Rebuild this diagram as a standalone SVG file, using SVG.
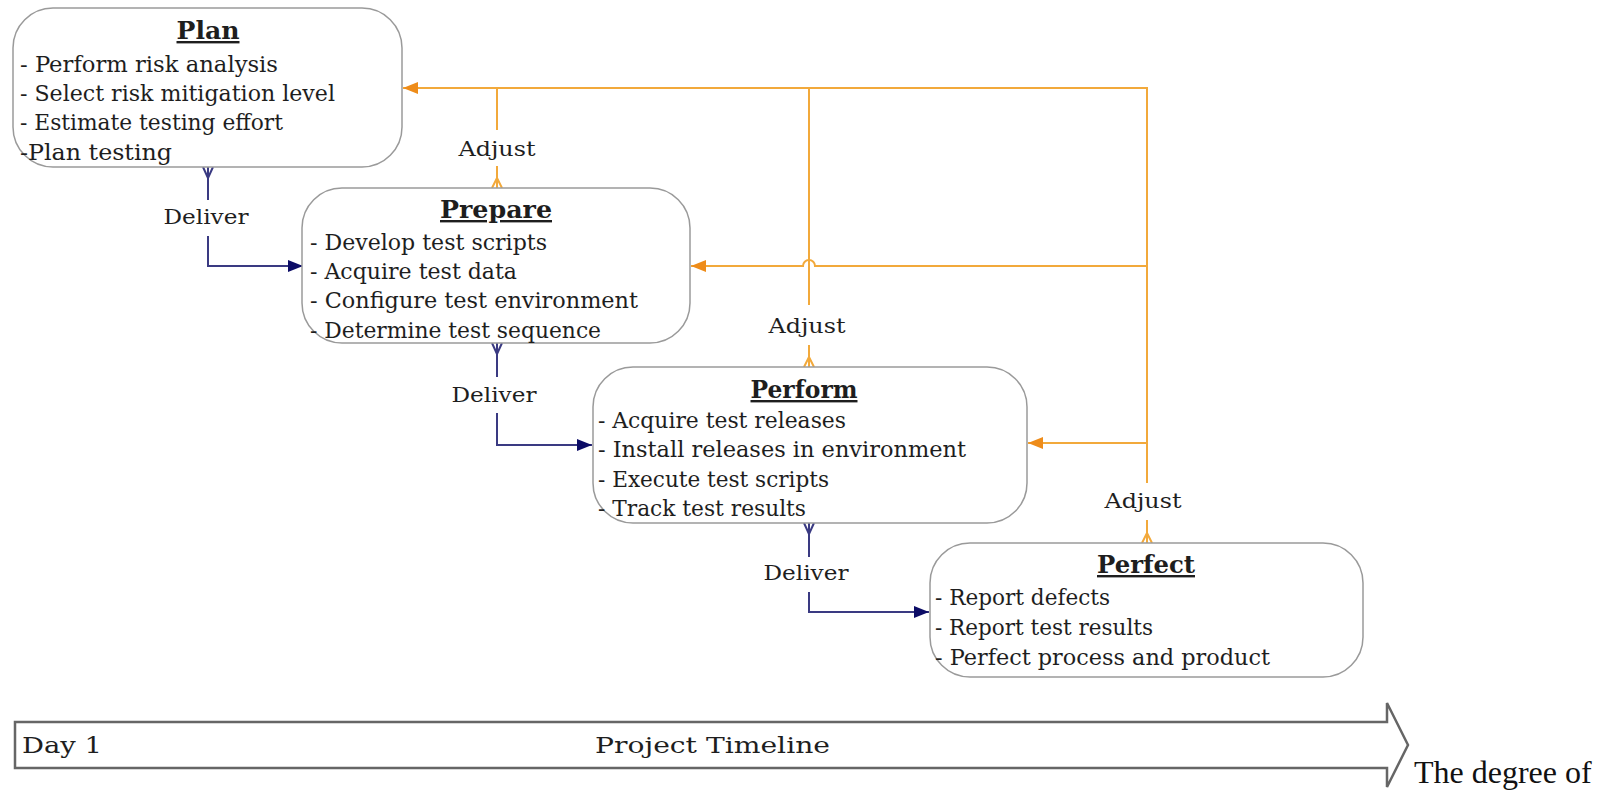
<svg xmlns="http://www.w3.org/2000/svg" width="1615" height="798" viewBox="0 0 1615 798">
<style>
.box{fill:#fff;stroke:#9a9a9a;stroke-width:1.5}
.t{font-family:"DejaVu Serif","Liberation Serif",serif;font-size:22px;fill:#1e1e1e}
.title{font-family:"DejaVu Serif","Liberation Serif",serif;font-size:24px;font-weight:bold;fill:#1e1e1e;text-decoration:underline;text-anchor:middle}
.lbl{font-family:"DejaVu Serif","Liberation Serif",serif;font-size:21px;fill:#1e1e1e;text-anchor:middle}
.del{fill:none;stroke:#3a3a82;stroke-width:2}
.adj{fill:none;stroke:#f2a93b;stroke-width:2}
.tl{fill:#fff;stroke:#666;stroke-width:2.5}
</style>
<defs>
<marker id="ab" markerUnits="userSpaceOnUse" viewBox="0 0 15 12" refX="15" refY="6" markerWidth="15" markerHeight="12" orient="auto">
<path d="M0,0 L15,6 L0,12 z" fill="#0c0c66"/>
</marker>
<marker id="ao" markerUnits="userSpaceOnUse" viewBox="0 0 15 12" refX="15" refY="6" markerWidth="15" markerHeight="12" orient="auto">
<path d="M0,0 L15,6 L0,12 z" fill="#ee8c1a"/>
</marker>
</defs>

<g id="connectors">
<!-- Deliver connectors -->
<path class="del" d="M208,167 V200 M203,167 L208,178 L213,167"/>
<path class="del" d="M208,236 V266 H303" marker-end="url(#ab)"/>
<path class="del" d="M497,343 V377 M492,343 L497,354 L502,343"/>
<path class="del" d="M497,413 V445 H592" marker-end="url(#ab)"/>
<path class="del" d="M809,523 V557 M804,523 L809,534 L814,523"/>
<path class="del" d="M809,592 V612 H929" marker-end="url(#ab)"/>
<!-- Adjust connectors -->
<path class="adj" d="M1147,483 V88 H403" marker-end="url(#ao)"/>
<path class="adj" d="M497,88 V130"/>
<path class="adj" d="M497,166 V188 M492,188 L497,178 L502,188"/>
<path class="adj" d="M809,88 V305"/>
<path class="adj" d="M809,345 V367 M804,367 L809,357 L814,367"/>
<path class="adj" d="M1147,266 H815 A6,6 0 0 0 803,266 H691" marker-end="url(#ao)"/>
<path class="adj" d="M1147,443 H1028" marker-end="url(#ao)"/>
<path class="adj" d="M1147,520 V543 M1142,543 L1147,533 L1152,543"/>
<text class="lbl" x="206" y="224" textLength="85" lengthAdjust="spacingAndGlyphs">Deliver</text>
<text class="lbl" x="494" y="402" textLength="85" lengthAdjust="spacingAndGlyphs">Deliver</text>
<text class="lbl" x="806" y="580" textLength="85" lengthAdjust="spacingAndGlyphs">Deliver</text>
<text class="lbl" x="497" y="156" textLength="77" lengthAdjust="spacingAndGlyphs">Adjust</text>
<text class="lbl" x="807" y="333" textLength="77" lengthAdjust="spacingAndGlyphs">Adjust</text>
<text class="lbl" x="1143" y="508" textLength="77" lengthAdjust="spacingAndGlyphs">Adjust</text>
</g>

<g id="plan">
<rect class="box" x="13" y="8" width="389" height="159" rx="40" ry="40"/>
<text class="title" x="208" y="39" textLength="63" lengthAdjust="spacingAndGlyphs">Plan</text>
<text class="t" x="20" y="72" textLength="258" lengthAdjust="spacingAndGlyphs">- Perform risk analysis</text>
<text class="t" x="20" y="101" textLength="315" lengthAdjust="spacingAndGlyphs">- Select risk mitigation level</text>
<text class="t" x="20" y="130" textLength="263" lengthAdjust="spacingAndGlyphs">- Estimate testing effort</text>
<text class="t" x="20" y="160" textLength="152" lengthAdjust="spacingAndGlyphs">-Plan testing</text>
</g>

<g id="prepare">
<rect class="box" x="302" y="188" width="388" height="155" rx="40" ry="40"/>
<text class="title" x="496" y="218" textLength="112" lengthAdjust="spacingAndGlyphs">Prepare</text>
<text class="t" x="310" y="250" textLength="237" lengthAdjust="spacingAndGlyphs">- Develop test scripts</text>
<text class="t" x="310" y="279" textLength="207" lengthAdjust="spacingAndGlyphs">- Acquire test data</text>
<text class="t" x="310" y="308" textLength="328" lengthAdjust="spacingAndGlyphs">- Configure test environment</text>
<text class="t" x="310" y="338" textLength="291" lengthAdjust="spacingAndGlyphs">- Determine test sequence</text>
</g>

<g id="perform">
<rect class="box" x="593" y="367" width="434" height="156" rx="40" ry="40"/>
<text class="title" x="804" y="398" textLength="107" lengthAdjust="spacingAndGlyphs">Perform</text>
<text class="t" x="598" y="428" textLength="248" lengthAdjust="spacingAndGlyphs">- Acquire test releases</text>
<text class="t" x="598" y="457" textLength="368" lengthAdjust="spacingAndGlyphs">- Install releases in environment</text>
<text class="t" x="598" y="487" textLength="231" lengthAdjust="spacingAndGlyphs">- Execute test scripts</text>
<text class="t" x="598" y="516" textLength="208" lengthAdjust="spacingAndGlyphs">- Track test results</text>
</g>

<g id="perfect">
<rect class="box" x="930" y="543" width="433" height="134" rx="40" ry="40"/>
<text class="title" x="1146" y="573" textLength="98" lengthAdjust="spacingAndGlyphs">Perfect</text>
<text class="t" x="935" y="605" textLength="175" lengthAdjust="spacingAndGlyphs">- Report defects</text>
<text class="t" x="935" y="635" textLength="218" lengthAdjust="spacingAndGlyphs">- Report test results</text>
<text class="t" x="935" y="665" textLength="335" lengthAdjust="spacingAndGlyphs">- Perfect process and product</text>
</g>

<g id="timeline">
<path class="tl" d="M15,722 H1387 V703 L1408,745 L1387,787 V768 H15 Z"/>
<text class="t" x="22" y="753" textLength="80" lengthAdjust="spacingAndGlyphs">Day 1</text>
<text class="t" x="595" y="753" textLength="235" lengthAdjust="spacingAndGlyphs">Project Timeline</text>
</g>

<text x="1414" y="783" font-family="'Liberation Serif', serif" font-size="32" fill="#111">The degree of</text>
</svg>
